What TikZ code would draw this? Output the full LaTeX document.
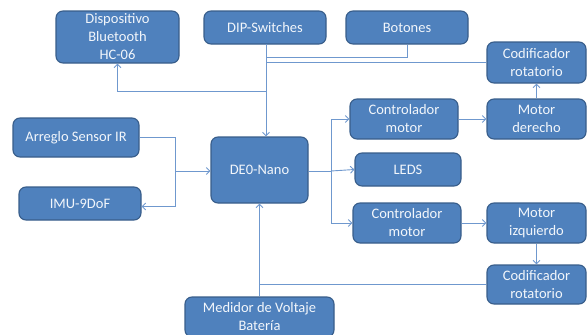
\documentclass[tikz,border=0pt]{standalone}
\usepackage{fontspec}
\setmainfont{Carlito}
\usetikzlibrary{arrows.meta}
\definecolor{boxfill}{HTML}{4F81BD}
\definecolor{boxline}{HTML}{385D8A}
\definecolor{conn}{HTML}{6F98CE}
\definecolor{txt}{HTML}{F2F6FB}
\begin{document}
\begin{tikzpicture}[x=1pt,y=-1pt,
  blk/.style={draw=boxline, line width=1.1pt, fill=boxfill, rounded corners=7pt,
    text=txt, align=center, inner sep=0pt, font=\fontsize{14.5}{18}\selectfont},
  wire/.style={draw=conn, line width=0.9pt},
  arr/.style={wire, -{Straight Barb[length=3.5pt,width=7pt]}}]
\useasboundingbox (0,0) rectangle (587,335);
\begin{scope}
\clip (0,0) rectangle (587,335);
\node[blk, minimum width=123, minimum height=52] (bt) at (117.5,37) {Dispositivo\\Bluetooth\\HC-06};
\node[blk, minimum width=122, minimum height=33] (dip) at (265,27.5) {DIP-Switches};
\node[blk, minimum width=122, minimum height=33] (bot) at (407,27.5) {Botones};
\node[blk, minimum width=99, minimum height=41] (cod1) at (536.5,62.5) {Codificador\\rotatorio};
\node[blk, minimum width=108, minimum height=40] (ctl1) at (404,119) {Controlador\\motor};
\node[blk, minimum width=99, minimum height=40] (mder) at (536.5,119) {Motor\\derecho};
\node[blk, minimum width=106, minimum height=33] (leds) at (408,169.5) {LEDS};
\node[blk, minimum width=108, minimum height=40] (ctl2) at (407,223) {Controlador\\motor};
\node[blk, minimum width=99, minimum height=40] (mizq) at (536.5,223) {Motor\\izquierdo};
\node[blk, minimum width=99, minimum height=39] (cod2) at (536.5,284.5) {Codificador\\rotatorio};
\node[blk, minimum width=126, minimum height=39] (ir) at (76,137.5) {Arreglo Sensor IR};
\node[blk, minimum width=122, minimum height=33] (imu) at (80,203.5) {IMU-9DoF};
\node[blk, minimum width=97, minimum height=66] (de0) at (259.5,170) {DE0-Nano};
\node[blk, minimum width=149, minimum height=40] (med) at (259.5,317) {Medidor de Voltaje\\Batería};
\end{scope}
\coordinate (t) at (266,44);
\coordinate (jl) at (175,171);
\coordinate (jr) at (331,171);
% top trunk
\draw[arr] (t) -- (t |- de0.north);
\draw[wire] (bot.south) |- (t |- 0,57);
\draw[wire] (cod1.west) -- (cod1.west -| t);
\draw[arr] (t |- 0,91) -| (bt.south);
% left side
\draw[wire] (ir.east) -| (jl);
\draw[arr] (jl) |- ([yshift=-3]imu.east);
\draw[arr] (jl) -- (jl -| de0.west);
% right side
\draw[wire] (jr -| de0.east) -- (jr);
\draw[arr] (jr) -- (leds.west);
\draw[arr] (jr) |- (ctl1.west);
\draw[arr] (jr) |- (ctl2.west);
\draw[arr] (ctl1) -- (mder);
\draw[arr] (ctl2) -- (mizq);
\draw[arr] (mder) -- (cod1);
\draw[arr] (mizq) -- (cod2);
% bottom
\draw[arr] (med.north) -- (med.north |- de0.south);
\draw[wire] (cod2.west) -- (cod2.west -| med.north);
\end{tikzpicture}
\end{document}
